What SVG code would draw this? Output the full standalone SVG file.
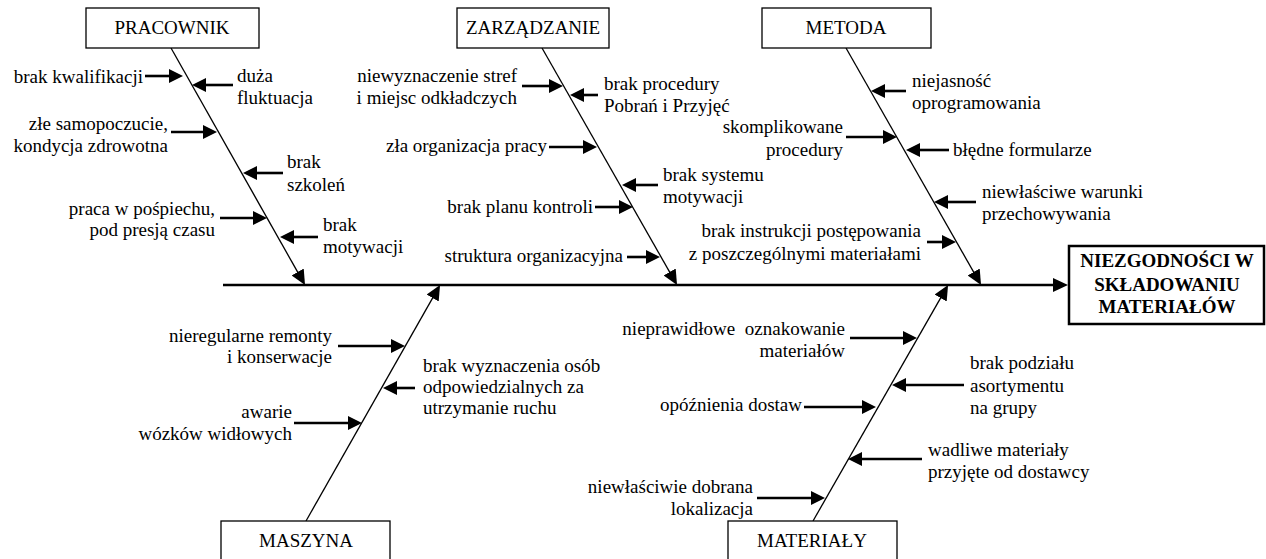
<svg xmlns="http://www.w3.org/2000/svg" width="1266" height="559" viewBox="0 0 1266 559">
<defs>
<marker id="ah" viewBox="0 0 14 14" markerWidth="14" markerHeight="14" markerUnits="userSpaceOnUse" refX="2" refY="7" orient="auto"><path d="M0,0 L14,7 L0,14 Z" fill="#000"/></marker>
<marker id="bh" viewBox="0 0 15 14" markerWidth="15" markerHeight="14" markerUnits="userSpaceOnUse" refX="3" refY="7" orient="auto"><path d="M0,0 L15,7 L0,14 Z" fill="#000"/></marker>
</defs>
<style>
.e{text-anchor:end}
.m{text-anchor:middle}
.hd{font-weight:bold;text-anchor:middle}
.box{fill:#fff;stroke:#000;stroke-width:1.3}
.hbox{fill:#fff;stroke:#000;stroke-width:2.5}
.bone{stroke:#000;stroke-width:1.3;fill:none;marker-end:url(#bh)}
.arr{stroke:#000;stroke-width:2.6;fill:none;marker-end:url(#ah)}
.spine{stroke:#000;stroke-width:2.5;fill:none;marker-end:url(#bh)}
</style>
<rect width="1266" height="559" fill="#fff"/>
<g id="connectors">
<line class="spine" x1="223" y1="285" x2="1056" y2="285"/>
<line class="bone" x1="171" y1="48" x2="299.1" y2="274.6"/>
<line class="bone" x1="542" y1="48" x2="671.1" y2="274.6"/>
<line class="bone" x1="846" y1="48" x2="975.1" y2="274.6"/>
<line class="bone" x1="306" y1="521" x2="434.1" y2="295.4"/>
<line class="bone" x1="813" y1="521" x2="942.1" y2="295.4"/>
<line class="arr" x1="145" y1="76" x2="171" y2="76"/>
<line class="arr" x1="233" y1="85" x2="204" y2="85"/>
<line class="arr" x1="171" y1="132" x2="205" y2="132"/>
<line class="arr" x1="283" y1="173" x2="255" y2="173"/>
<line class="arr" x1="220" y1="218" x2="255" y2="218"/>
<line class="arr" x1="318" y1="237" x2="292" y2="237"/>
<line class="arr" x1="522" y1="86" x2="551" y2="86"/>
<line class="arr" x1="598" y1="95" x2="582" y2="95"/>
<line class="arr" x1="549" y1="147" x2="585" y2="147"/>
<line class="arr" x1="658" y1="185" x2="634" y2="185"/>
<line class="arr" x1="595" y1="207" x2="621" y2="207"/>
<line class="arr" x1="627" y1="257" x2="648" y2="257"/>
<line class="arr" x1="906" y1="91" x2="883" y2="91"/>
<line class="arr" x1="846" y1="137" x2="885" y2="137"/>
<line class="arr" x1="949" y1="150" x2="918" y2="150"/>
<line class="arr" x1="976" y1="202" x2="946" y2="202"/>
<line class="arr" x1="927" y1="242" x2="944" y2="242"/>
<line class="arr" x1="338" y1="346" x2="393" y2="346"/>
<line class="arr" x1="415" y1="388" x2="395" y2="388"/>
<line class="arr" x1="294" y1="423" x2="350" y2="423"/>
<line class="arr" x1="850" y1="338" x2="905" y2="338"/>
<line class="arr" x1="964" y1="385" x2="904" y2="385"/>
<line class="arr" x1="804" y1="407" x2="864" y2="407"/>
<line class="arr" x1="922" y1="459" x2="860" y2="459"/>
<line class="arr" x1="757" y1="498" x2="813" y2="498"/>
</g>
<g font-family="'Liberation Serif', 'Times New Roman', serif" font-size="19" fill="#000">
<g id="effect">
<rect class="hbox" x="1069" y="246" width="195" height="78"/>
<text class="hd" x="1167" y="267">NIEZGODNOŚCI W</text>
<text class="hd" x="1167" y="291">SKŁADOWANIU</text>
<text class="hd" x="1167" y="313">MATERIAŁÓW</text>
</g>
<g id="pracownik">
<rect class="box" x="86" y="8" width="173" height="40"/>
<text class="m" x="172" y="34">PRACOWNIK</text>
<text class="e" x="143" y="83">brak kwalifikacji</text>
<text x="237" y="82">duża</text>
<text x="237" y="104">fluktuacja</text>
<text class="e" x="168" y="130">złe samopoczucie,</text>
<text class="e" x="168" y="152">kondycja zdrowotna</text>
<text x="287" y="168">brak</text>
<text x="287" y="191">szkoleń</text>
<text class="e" x="215" y="215">praca w pośpiechu,</text>
<text class="e" x="215" y="236">pod presją czasu</text>
<text x="323" y="231">brak</text>
<text x="323" y="253">motywacji</text>
</g>
<g id="zarzadzanie">
<rect class="box" x="457" y="8" width="152" height="40"/>
<text class="m" x="533" y="34">ZARZĄDZANIE</text>
<text class="e" x="517" y="82">niewyznaczenie stref</text>
<text class="e" x="517" y="104">i miejsc odkładczych</text>
<text x="604" y="90">brak procedury</text>
<text x="604" y="112">Pobrań i Przyjęć</text>
<text class="e" x="547" y="152">zła organizacja pracy</text>
<text x="663" y="181">brak systemu</text>
<text x="663" y="203">motywacji</text>
<text class="e" x="593" y="213">brak planu kontroli</text>
<text class="e" x="623" y="262">struktura organizacyjna</text>
</g>
<g id="metoda">
<rect class="box" x="762" y="8" width="169" height="40"/>
<text class="m" x="846" y="34">METODA</text>
<text x="912" y="87">niejasność</text>
<text x="912" y="109">oprogramowania</text>
<text class="e" x="843" y="133">skomplikowane</text>
<text class="e" x="843" y="156">procedury</text>
<text x="953" y="156">błędne formularze</text>
<text x="982" y="198">niewłaściwe warunki</text>
<text x="982" y="220">przechowywania</text>
<text class="e" x="921" y="237">brak instrukcji postępowania</text>
<text class="e" x="921" y="260">z poszczególnymi materiałami</text>
</g>
<g id="maszyna">
<rect class="box" x="221" y="521" width="169" height="50"/>
<text class="m" x="306" y="547">MASZYNA</text>
<text class="e" x="332" y="342">nieregularne remonty</text>
<text class="e" x="332" y="363">i konserwacje</text>
<text x="423" y="372">brak wyznaczenia osób</text>
<text x="423" y="393">odpowiedzialnych za</text>
<text x="423" y="414">utrzymanie ruchu</text>
<text class="e" x="292" y="418">awarie</text>
<text class="e" x="292" y="440">wózków widłowych</text>
</g>
<g id="materialy">
<rect class="box" x="728" y="521" width="169" height="50"/>
<text class="m" x="812" y="547">MATERIAŁY</text>
<text class="e" x="845" y="335" xml:space="preserve">nieprawidłowe  oznakowanie</text>
<text class="e" x="845" y="357">materiałów</text>
<text x="970" y="369">brak podziału</text>
<text x="970" y="392">asortymentu</text>
<text x="970" y="414">na grupy</text>
<text class="e" x="802" y="411">opóźnienia dostaw</text>
<text x="928" y="456">wadliwe materiały</text>
<text x="928" y="478">przyjęte od dostawcy</text>
<text class="e" x="753" y="493">niewłaściwie dobrana</text>
<text class="e" x="753" y="515">lokalizacja</text>
</g>
</g>
</svg>
